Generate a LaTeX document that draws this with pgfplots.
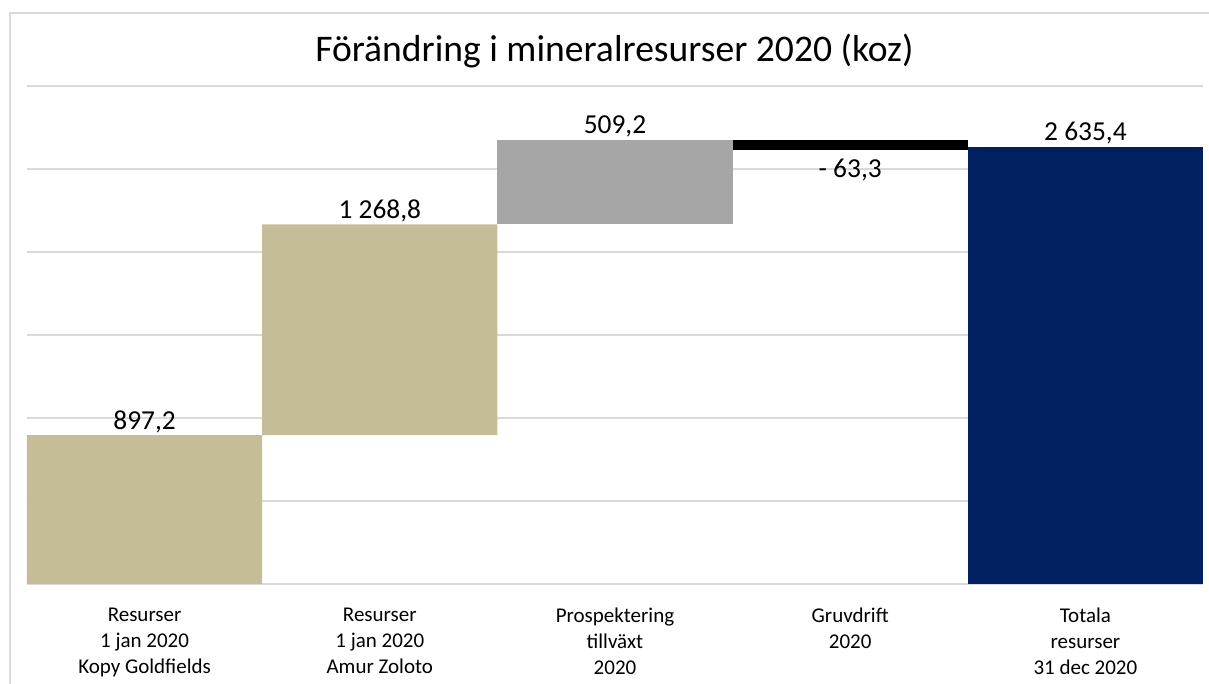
\documentclass[border=0pt]{standalone}
\usepackage{pgfplots}
\pgfplotsset{compat=1.18}
\usepackage{fontspec}
\setmainfont{Carlito}
\definecolor{barTan}{HTML}{C4BD97}
\definecolor{barGray}{HTML}{A6A6A6}
\definecolor{barNavy}{HTML}{002060}
\definecolor{gridc}{HTML}{D9D9D9}
\tikzset{vlab/.style={font=\fontsize{13.7pt}{16pt}\selectfont, anchor=base}}
\begin{document}
\begin{tikzpicture}
\useasboundingbox (0,0) rectangle (604.5pt,342pt);
\draw[gridc, line width=0.75pt] (5pt,0) -- (5pt,335.5pt) -- (604.5pt,335.5pt);
\node[anchor=base, font=\fontsize{18.8pt}{22pt}\selectfont] at (307.2pt,311pt) {Förändring i mineralresurser 2020 (koz)};
\begin{axis}[
  at={(13.5pt,50pt)}, anchor=south west,
  scale only axis, width=588pt, height=249pt,
  xmin=-0.5, xmax=4.5, ymin=0, ymax=3000,
  ytick={0,500,...,3000}, yticklabels={},
  ymajorgrids, grid style={gridc, line width=0.75pt},
  axis line style={draw=none}, tick style={draw=none},
  xtick={0,1,2,3,4},
  xticklabels={{Resurser\\1 jan 2020\\Kopy Goldfields},{Resurser\\1 jan 2020\\Amur Zoloto},{Prospektering\\tillväxt\\2020},{Gruvdrift\\2020},{Totala\\resurser\\31 dec 2020}},
  xticklabel style={align=center, font=\fontsize{10.5pt}{13pt}\selectfont, yshift=-8.5pt},
  ybar stacked, bar width=1,
  clip=false,
]
\addplot[draw=none, fill=white, fill opacity=0] coordinates {(0,0) (1,897.2) (2,2166) (3,2611.9) (4,0)};
\addplot[draw=none, fill=barTan] coordinates {(0,897.2) (1,1268.8) (2,0) (3,0) (4,0)};
\addplot[draw=none, fill=barGray] coordinates {(0,0) (1,0) (2,509.2) (3,0) (4,0)};
\addplot[draw=none, fill=black] coordinates {(0,0) (1,0) (2,0) (3,63.3) (4,0)};
\addplot[draw=none, fill=barNavy] coordinates {(0,0) (1,0) (2,0) (3,0) (4,2635.4)};
\node[vlab, yshift=3pt] at (axis cs:0,897.2) {897,2};
\node[vlab, yshift=3pt] at (axis cs:1,2166) {1 268,8};
\node[vlab, yshift=3pt] at (axis cs:2,2675.2) {509,2};
\node[vlab, yshift=-13.5pt] at (axis cs:3,2611.9) {- 63,3};
\node[vlab, yshift=3pt] at (axis cs:4,2635.4) {2 635,4};
\end{axis}
\end{tikzpicture}
\end{document}
